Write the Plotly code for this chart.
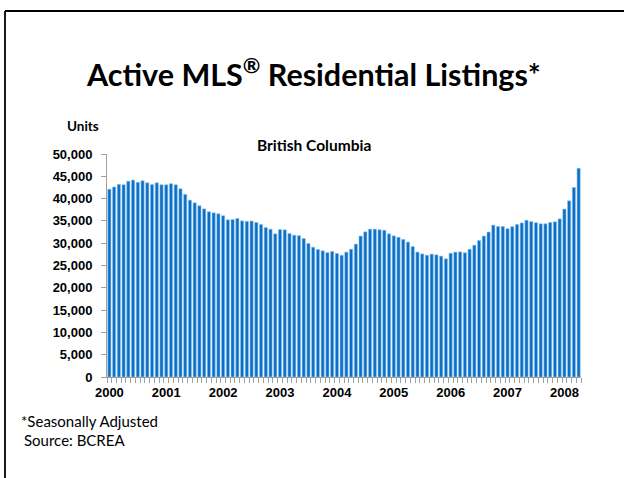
import plotly.graph_objects as go

# ---- data ----
start_year = 2000
listings = [
    42100, 42600, 43200, 43100, 43900, 44150, 43650, 44000, 43550, 43150, 43550, 43100,
    43100, 43350, 43100, 42200, 40950, 39650, 39050, 38400, 37700, 37050, 36800, 36600,
    36150, 35250, 35300, 35550, 35000, 34900, 34950, 34650, 34200, 33500, 33150, 32100,
    33050, 33000, 32200, 31800, 31700, 31050, 29950, 29100, 28600, 28300, 27900, 28150,
    27700, 27300, 28000, 28650, 29800, 31600, 32550, 33150, 33150, 33000, 32900, 32100,
    31650, 31350, 30850, 30250, 29250, 28000, 27600, 27300, 27550, 27400, 27100, 26500,
    27750, 28000, 28050, 27850, 28650, 29550, 30600, 31600, 32500, 34050, 33750, 33750,
    33250, 33700, 34200, 34550, 35150, 34850, 34600, 34350, 34350, 34650, 34800, 35450,
    37650, 39500, 42500, 46800,
]
months = [f"{start_year + i // 12}-{i % 12 + 1:02d}" for i in range(len(listings))]
tick_text = [m[:4] if m.endswith("-01") else " " for m in months]

title = "Active MLS<sup>®</sup> Residential Listings*"
subtitle = "British Columbia"
y_label = "Units"
notes = ["*Seasonally Adjusted", "Source: BCREA"]

# ---- layout geometry (pixels) ----
W, H = 624, 478
L, R, T, B = 107, 581, 154, 377


def px(x):
    return (x - L) / (R - L)


def py(y):
    return (B - y) / (B - T)


fig = go.Figure()
fig.add_trace(go.Bar(
    x=months, y=listings,
    marker=dict(color="#0B6FC6", line=dict(color="#8CC3EE", width=0.6)),
    hoverinfo="x+y",
))

fig.update_layout(
    width=W, height=H,
    margin=dict(l=L, r=W - R, t=T, b=H - B, pad=0),
    paper_bgcolor="white", plot_bgcolor="white",
    showlegend=False, bargap=0.33,
    font=dict(family="Liberation Sans, Arial", color="black"),
)
fig.update_xaxes(
    type="category", tickmode="array", tickvals=months, ticktext=tick_text,
    tickson="boundaries", ticks="outside", ticklen=5, tickcolor="#A0A0A0",
    showline=True, linecolor="#A0A0A0", linewidth=1, showgrid=False,
    tickangle=0, ticklabelstandoff=3,
    tickfont=dict(family="Liberation Sans, Arial", size=13, color="black", weight="bold"),
)
fig.update_yaxes(
    range=[0, 50000], dtick=5000, tickformat=",d", ticks="outside", ticklen=5,
    tickcolor="#A0A0A0", showline=True, linecolor="#A0A0A0", linewidth=1,
    showgrid=False, zeroline=False, ticklabelstandoff=6,
    tickfont=dict(family="Liberation Sans, Arial", size=13, color="black", weight="bold"),
)

# frame lines (top and left)
fig.add_shape(type="line", xref="paper", yref="paper",
              x0=px(5), x1=px(624), y0=py(11), y1=py(11),
              line=dict(color="black", width=1.8))
fig.add_shape(type="line", xref="paper", yref="paper",
              x0=px(5), x1=px(5), y0=py(11), y1=py(478),
              line=dict(color="black", width=1.8))

# texts
fig.add_annotation(text=f"<b>{title}</b>", xref="paper", yref="paper",
                   x=px(313), y=py(72), xanchor="center", yanchor="middle",
                   showarrow=False, font=dict(family="Lato", size=30.5, color="black"))
fig.add_annotation(text=f"<b>{subtitle}</b>", xref="paper", yref="paper",
                   x=px(314), y=py(145), xanchor="center", yanchor="middle",
                   showarrow=False, font=dict(family="Lato", size=15.5, color="black"))
fig.add_annotation(text=f"<b>{y_label}</b>", xref="paper", yref="paper",
                   x=px(65), y=py(126), xanchor="left", yanchor="middle",
                   showarrow=False, font=dict(family="Lato", size=13.5, color="black"))
fig.add_annotation(text=notes[0], xref="paper", yref="paper",
                   x=px(19), y=py(421), xanchor="left", yanchor="middle",
                   showarrow=False, font=dict(family="Lato", size=15, color="black"))
fig.add_annotation(text=notes[1], xref="paper", yref="paper",
                   x=px(22), y=py(440), xanchor="left", yanchor="middle",
                   showarrow=False, font=dict(family="Lato", size=15, color="black"))

fig.write_html(
    "out.html", config={"displayModeBar": False},
    post_script=(
        "document.documentElement.style.overflow='hidden';"
        "document.body.style.margin='0';document.body.style.overflow='hidden';"
    ),
)
